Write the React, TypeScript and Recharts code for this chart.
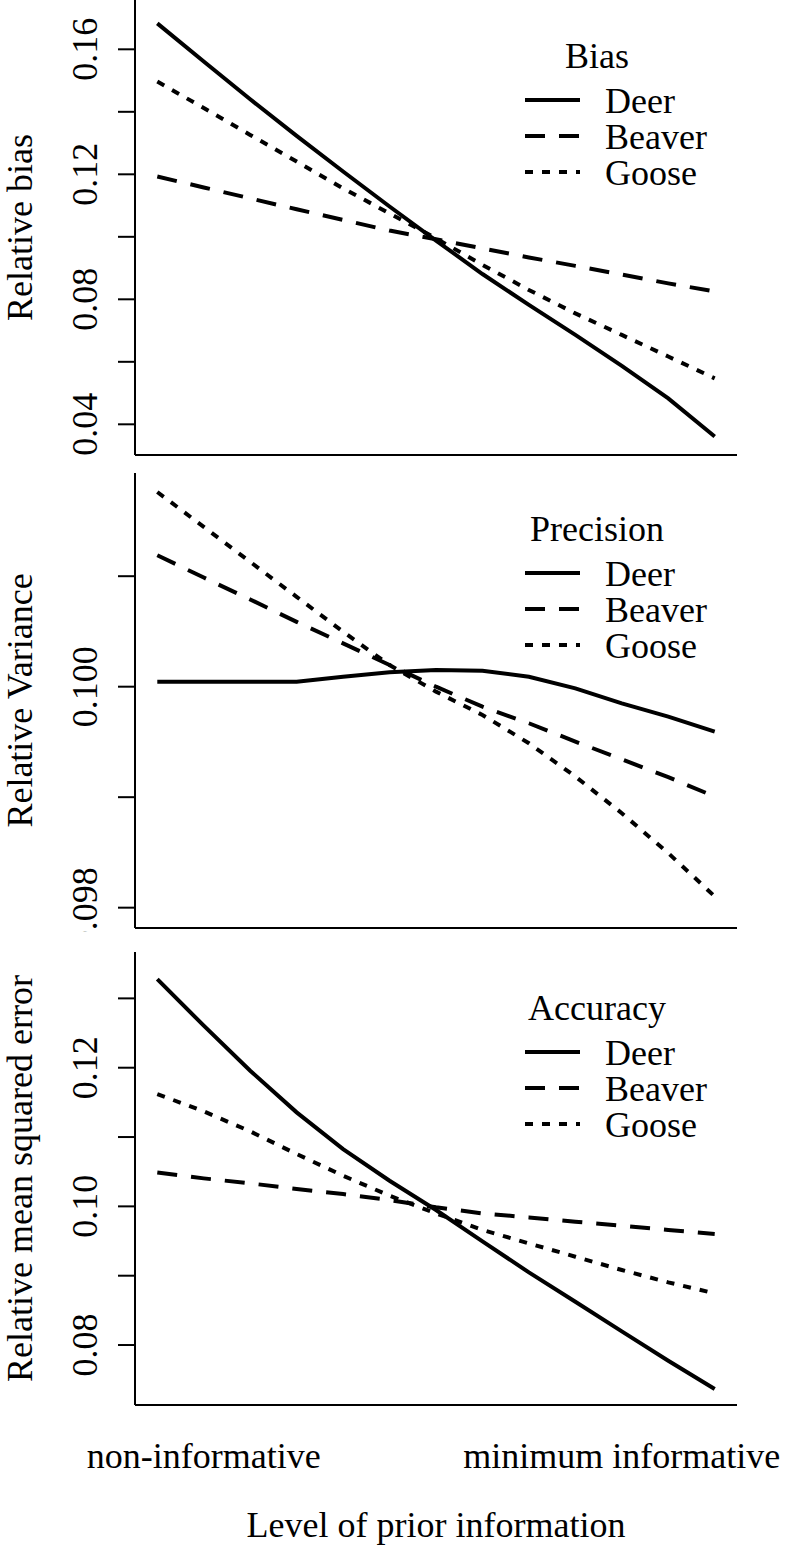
import React from 'react';
import { LineChart, Line, XAxis, YAxis, Legend } from 'recharts';

// level of prior information, from non-informative (1) to minimum informative
const levels = [1, 2, 3, 4, 5, 6, 7, 8, 9, 10, 11, 12, 13];
const speciesNames = ['Deer', 'Beaver', 'Goose'];

// relative bias
const deerBias = [0.1683, 0.1561, 0.144, 0.1323, 0.1209, 0.1097, 0.0988, 0.0881, 0.0782, 0.0686, 0.0587, 0.0483, 0.0361];
const beaverBias = [0.1193, 0.1158, 0.1123, 0.1088, 0.1054, 0.102, 0.0992, 0.0963, 0.0934, 0.0907, 0.0879, 0.0851, 0.0825];
const gooseBias = [0.1497, 0.1412, 0.1326, 0.1241, 0.1155, 0.1075, 0.0995, 0.091, 0.083, 0.0755, 0.0686, 0.0617, 0.0547];

// relative variance
const deerVar = [0.100045, 0.100045, 0.100045, 0.100045, 0.10009, 0.10013, 0.100151, 0.100145, 0.10009, 0.099985, 0.099849, 0.099729, 0.099593];
const beaverVar = [0.10119, 0.100988, 0.100789, 0.100587, 0.100392, 0.100196, 0.1, 0.099819, 0.099669, 0.099503, 0.099343, 0.099181, 0.099006];
const gooseVar = [0.101762, 0.101446, 0.10113, 0.100813, 0.100497, 0.100196, 0.099955, 0.099744, 0.099488, 0.099187, 0.098855, 0.098494, 0.098102];

// relative mean squared error
const deerMse = [0.13279, 0.12606, 0.11957, 0.11356, 0.10827, 0.1037, 0.09947, 0.09495, 0.09048, 0.08625, 0.08197, 0.07774, 0.07365];
const beaverMse = [0.1049, 0.10404, 0.10332, 0.1025, 0.10178, 0.10091, 0.09986, 0.09899, 0.09841, 0.09779, 0.09721, 0.09659, 0.09601];
const gooseMse = [0.1162, 0.1137, 0.11082, 0.10755, 0.10442, 0.10154, 0.09899, 0.09659, 0.09466, 0.09274, 0.09082, 0.08904, 0.08745];

const biasTicks = [0.04, 0.06, 0.08, 0.1, 0.12, 0.14, 0.16];
const biasLabels = [0.04, 0.08, 0.12, 0.16];
const varTicks = [0.098, 0.099, 0.1, 0.101];
const varLabels = [0.098, 0.1];
const mseTicks = [0.08, 0.09, 0.1, 0.11, 0.12, 0.13];
const mseLabels = [0.08, 0.1, 0.12];

const xTickPositions = [2, 11];
const xTickLabels = ['non-informative', 'minimum informative'];

const FONT = "'Liberation Serif', 'Times New Roman', serif";
const FS = 36;
const LW = 4;
const dashes = [undefined, '20 14', '8 9'];

const makeRows = (a: number[], b: number[], c: number[]) =>
  levels.map((lv, i) => ({ level: lv, Deer: a[i], Beaver: b[i], Goose: c[i] }));

const panels = [
  { title: 'Bias', yLabel: 'Relative bias', rows: makeRows(deerBias, beaverBias, gooseBias), domain: [0.03018, 0.17578], ticks: biasTicks, labels: biasLabels, digits: 2, top: 0, height: 473, mTop: 0, xHeight: 18 },
  { title: 'Precision', yLabel: 'Relative Variance', rows: makeRows(deerVar, beaverVar, gooseVar), domain: [0.097816, 0.101934], ticks: varTicks, labels: varLabels, digits: 3, top: 470, height: 462, mTop: 3, xHeight: 4 },
  { title: 'Accuracy', yLabel: 'Relative mean squared error', rows: makeRows(deerMse, beaverMse, gooseMse), domain: [0.07135, 0.13669], ticks: mseTicks, labels: mseLabels, digits: 2, top: 940, height: 606, mTop: 12, xHeight: 141 },
];

const YTick = (props: any) => {
  const { y, payload, labels, digits } = props;
  if (!labels.some((v: number) => Math.abs(v - payload.value) < 1e-9)) return <g />;
  const x = 97;
  return (
    <text x={x} y={y} transform={`rotate(-90, ${x}, ${y})`} textAnchor="middle"
      fontFamily={FONT} fontSize={FS} fill="#000">
      {payload.value.toFixed(digits)}
    </text>
  );
};

const XTick = (props: any) => {
  const { x, payload } = props;
  const idx = xTickPositions.indexOf(payload.value);
  return (
    <text x={x} y={528} textAnchor="middle" fontFamily={FONT} fontSize={FS} fill="#000">
      {xTickLabels[idx]}
    </text>
  );
};

// legend keeps the plotting order Deer, Beaver, Goose
const LegendBox = ({ title }: { title: string }) => (
  <svg width={285} height={220} style={{ display: 'block', overflow: 'visible' }}>
    <text x={97} y={68} textAnchor="middle" fontFamily={FONT} fontSize={FS} fill="#000">{title}</text>
    {speciesNames.map((name, i) => {
      const yy = 100 + i * 36;
      return (
        <g key={name}>
          <line x1={25} x2={80} y1={yy} y2={yy} stroke="#000" strokeWidth={LW}
            strokeDasharray={dashes[i]} />
          <text x={105} y={yy + 13} fontFamily={FONT} fontSize={FS} fill="#000">{name}</text>
        </g>
      );
    })}
  </svg>
);

const Panel = ({ p, last }: { p: (typeof panels)[number]; last: boolean }) => (
  <div style={{ position: 'absolute', left: 0, top: p.top }}>
    <LineChart width={785} height={p.height} data={p.rows}
      margin={{ top: p.mTop, right: 48, left: 0, bottom: 0 }}>
      <XAxis dataKey="level" type="number" domain={[0.52, 13.48]} allowDataOverflow
        height={p.xHeight} axisLine={{ stroke: '#000', strokeWidth: 2 }} tickLine={false}
        ticks={last ? xTickPositions : []} interval={0}
        tick={last ? (tp: any) => <XTick {...tp} /> : false}
        label={last ? (lp: any) => {
          const vb = lp.viewBox;
          return (
            <text x={vb.x + vb.width / 2} y={vb.y + 132} textAnchor="middle"
              fontFamily={FONT} fontSize={FS} fill="#000">Level of prior information</text>
          );
        } : undefined} />
      <YAxis type="number" domain={p.domain} allowDataOverflow ticks={p.ticks} interval={0}
        width={135} tickSize={17} axisLine={{ stroke: '#000', strokeWidth: 2 }}
        tickLine={{ stroke: '#000', strokeWidth: 2 }}
        tick={(tp: any) => <YTick {...tp} labels={p.labels} digits={p.digits} />}
        label={(lp: any) => {
          const vb = lp.viewBox;
          const cy = vb.y + vb.height / 2;
          return (
            <text x={32} y={cy} transform={`rotate(-90, 32, ${cy})`} textAnchor="middle"
              fontFamily={FONT} fontSize={FS} fill="#000">{p.yLabel}</text>
          );
        }} />
      <Legend layout="vertical" align="center" verticalAlign="middle"
        wrapperStyle={{ left: 500, top: p.mTop, width: 285, height: 220 }}
        content={() => <LegendBox title={p.title} />} />
      {speciesNames.map((name, i) => (
        <Line key={name} type="linear" dataKey={name} name={name} stroke="#000" strokeWidth={LW}
          strokeDasharray={dashes[i]} dot={false} activeDot={false} isAnimationActive={false} />
      ))}
    </LineChart>
  </div>
);

export default function App() {
  return (
    <div style={{ position: 'absolute', left: 0, top: 0, width: 785, height: 1546, background: '#fff' }}>
      {panels.map((p, i) => (
        <Panel key={p.title} p={p} last={i === panels.length - 1} />
      ))}
    </div>
  );
}
